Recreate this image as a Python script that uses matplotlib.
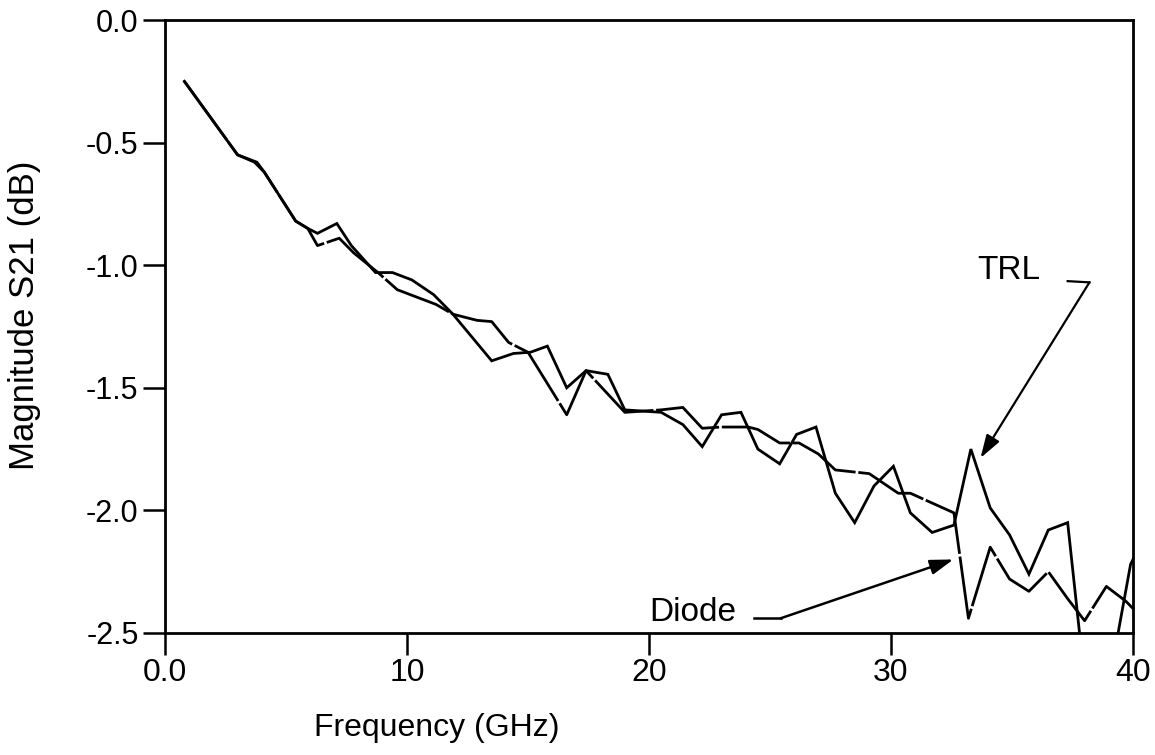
import matplotlib
matplotlib.use("Agg")
import matplotlib.pyplot as plt

# ---- data ----
trl_x = [0.8, 3.0, 3.8, 4.1, 5.4, 5.9, 6.3, 7.1, 7.7, 8.7, 9.4, 10.2, 11.1, 11.9,
         13.5, 14.4, 15.1, 15.8, 16.6, 17.4, 18.3, 19.0, 20.5, 21.4, 22.2, 23.0,
         23.8, 24.5, 25.4, 26.1, 26.9, 27.7, 28.5, 29.3, 30.1, 30.8, 31.7, 32.6,
         33.3, 34.1, 34.9, 35.7, 36.5, 37.3, 37.9, 39.2, 39.9, 40.0]
trl_y = [-0.25, -0.55, -0.58, -0.62, -0.82, -0.85, -0.87, -0.83, -0.92, -1.03, -1.03,
         -1.06, -1.12, -1.20, -1.39, -1.36, -1.355, -1.33, -1.50, -1.43, -1.445, -1.59,
         -1.60, -1.65, -1.74, -1.61, -1.60, -1.75, -1.81, -1.69, -1.66, -1.93, -2.05,
         -1.90, -1.82, -2.01, -2.09, -2.06, -1.75, -1.99, -2.10, -2.26, -2.08, -2.05,
         -2.60, -2.60, -2.22, -2.20]

diode_x = [0.8, 3.0, 3.7, 3.9, 4.1, 5.4, 5.9, 6.3, 7.2, 7.8, 8.8, 9.6, 11.2, 11.9,
           12.9, 13.5, 14.2, 15.0, 16.6, 17.4, 19.0, 20.5, 21.4, 22.2, 23.0, 24.1,
           24.5, 25.4, 26.2, 27.0, 27.7, 29.1, 30.3, 30.8, 32.6, 33.2, 34.1, 34.9,
           35.7, 36.5, 37.3, 38.0, 38.9, 39.7, 40.0]
diode_y = [-0.25, -0.55, -0.58, -0.60, -0.62, -0.82, -0.85, -0.92, -0.89, -0.95,
           -1.03, -1.10, -1.16, -1.20, -1.225, -1.23, -1.315, -1.355, -1.61, -1.43,
           -1.60, -1.59, -1.58, -1.665, -1.66, -1.66, -1.67, -1.725, -1.725, -1.77,
           -1.835, -1.85, -1.93, -1.93, -2.01, -2.44, -2.15, -2.28, -2.33, -2.25,
           -2.36, -2.45, -2.31, -2.37, -2.40]

x_ticks = [0, 10, 20, 30, 40]
x_tick_labels = ["0.0", "10", "20", "30", "40"]
y_ticks = [0.0, -0.5, -1.0, -1.5, -2.0, -2.5]
y_tick_labels = ["0.0", "-0.5", "-1.0", "-1.5", "-2.0", "-2.5"]

plt.rcParams['font.family'] = ['Liberation Sans', 'DejaVu Sans']

W, H = 1155, 755
fig = plt.figure(figsize=(W / 100, H / 100), dpi=100)
ax = fig.add_axes([165 / W, 1 - 633 / H, (1133 - 165) / W, (633 - 20) / H])

ax.plot(trl_x, trl_y, color='black', lw=2.0, solid_joinstyle='miter')
ax.plot(diode_x, diode_y, color='black', lw=2.0, linestyle=(0, (26, 1.0)))

ax.set_xlim(0, 40)
ax.set_ylim(-2.5, 0.0)
ax.set_xticks(x_ticks)
ax.set_xticklabels(x_tick_labels)
ax.set_yticks(y_ticks)
ax.set_yticklabels(y_tick_labels)

for s in ax.spines.values():
    s.set_linewidth(2.0)
ax.tick_params(axis='both', direction='out', length=16, width=1.8, pad=3)
ax.tick_params(axis='x', labelsize=23, pad=2)
ax.tick_params(axis='y', labelsize=22)

fig.text(437 / W, 1 - 728 / H, "Frequency (GHz)", fontsize=23,
         ha='center', va='center')
fig.text(25 / W, 1 - 315 / H, "Magnitude S21 (dB)", fontsize=25,
         ha='center', va='center', rotation=90)

# Annotations
ax.text(34.85, -1.02, "TRL", fontsize=24, ha='center', va='center')
ax.plot([37.3, 38.2], [-1.065, -1.07], color='black', lw=1.6, clip_on=False)
ax.annotate("", xy=(33.7, -1.786), xytext=(38.2, -1.07),
            arrowprops=dict(arrowstyle='-|>,head_length=1.4,head_width=0.45',
                            color='black', lw=1.6, shrinkA=0, shrinkB=0))

ax.text(21.8, -2.415, "Diode", fontsize=24, ha='center', va='center')
ax.plot([24.33, 25.44], [-2.44, -2.44], color='black', lw=1.8)
ax.annotate("", xy=(32.58, -2.20), xytext=(25.44, -2.44),
            arrowprops=dict(arrowstyle='-|>,head_length=1.4,head_width=0.45',
                            color='black', lw=1.8, shrinkA=0, shrinkB=0))

fig.savefig("out.png", dpi=100, facecolor='white')
